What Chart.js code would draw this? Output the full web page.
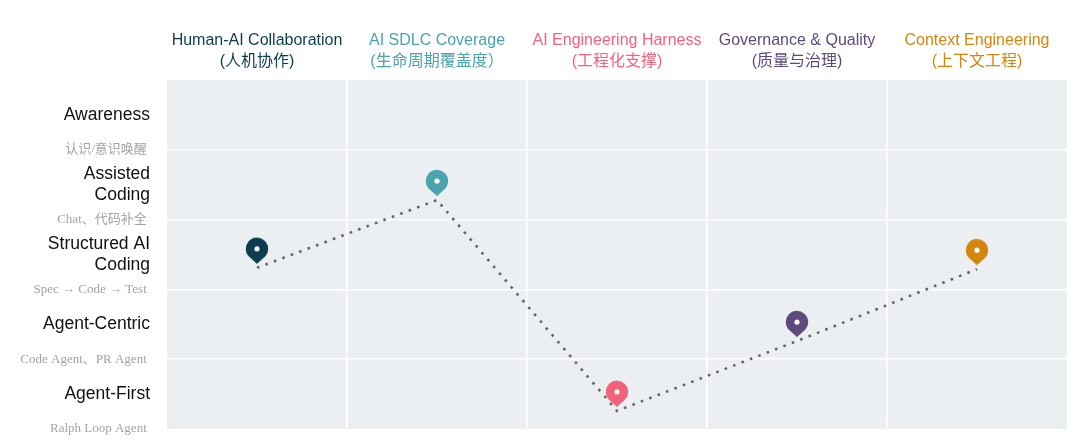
<!DOCTYPE html>
<html><head><meta charset="utf-8">
<script src="https://cdn.jsdelivr.net/npm/chart.js@4"></script>
<style>html,body{margin:0;padding:0;background:#fff;} canvas{display:block}</style>
</head><body>
<canvas id="c" width="1080" height="443"></canvas>
<script>
const dimensionNames = ['Human-AI Collaboration','AI SDLC Coverage','AI Engineering Harness','Governance & Quality','Context Engineering'];
const dimensionNamesZh = ['(人机协作)','(生命周期覆盖度）','(工程化支撑)','(质量与治理)','(上下文工程)'];
const dimensionColors = ['#0b3d4e','#4aa3ad','#f2637b','#5e4a7c','#d3860d'];
const maturityLevels = [2.31, 3.28, 0.26, 1.26, 2.29];
// stage names sit at row centres (0.5, 1.5, ...), bottom to top
const stageNames = [['Agent-First'],['Agent-Centric'],['Structured AI','Coding'],['Assisted','Coding'],['Awareness']];
// stage examples sit at row boundaries (0, 1, 2, ...), bottom to top
const stageExamples = ['Ralph Loop Agent','Code Agent、PR Agent','Spec → Code → Test','Chat、代码补全','认识/意识唤醒'];
const yTickValues = [0,0.5,1,1.5,2,2.5,3,3.5,4,4.5,5];

function makePin(color){
  const W=28,H=32;
  const cv=document.createElement('canvas');
  cv.width=W; cv.height=2*H;
  const c=cv.getContext('2d');
  const cx=W/2, cy=H-19, r=11.2, tipY=H-4;
  const d=tipY-cy, th=Math.acos(r/d);
  c.beginPath();
  c.moveTo(cx,tipY);
  c.arc(cx,cy,r,Math.PI/2+th,Math.PI/2-th);
  c.closePath();
  c.fillStyle=color; c.fill();
  c.beginPath(); c.arc(cx,cy,2.6,0,Math.PI*2); c.fillStyle='#fff'; c.fill();
  return cv;
}

const bgPlugin={id:'bg',beforeDraw(chart){
  const a=chart.chartArea,ctx=chart.ctx;
  ctx.save();ctx.fillStyle='#ebeff2';ctx.fillRect(a.left,a.top,a.right-a.left,a.bottom-a.top);ctx.restore();
}};

const isMajor=v=>Math.abs(v%1-0.5)<1e-6;
const majorFont={family:'"Liberation Sans","Noto Sans CJK SC",sans-serif',size:17.5,lineHeight:1.2};
const minorFont={family:'"Liberation Serif","Noto Sans CJK SC",serif',size:13,lineHeight:1.2};

new Chart(document.getElementById('c'),{
  type:'line',
  data:{
    labels:dimensionNames.map((n,i)=>[n,dimensionNamesZh[i]]),
    datasets:[{
      data:maturityLevels,
      borderColor:'#666666',
      borderWidth:2.6,
      borderDash:[2.6,6.4],
      fill:false,
      tension:0,
      pointStyle:dimensionColors.map(makePin),
      pointRadius:14
    }]
  },
  options:{
    responsive:false,
    animation:false,
    layout:{autoPadding:false,padding:{left:0,right:13,top:0,bottom:14}},
    plugins:{legend:{display:false},tooltip:{enabled:false}},
    scales:{
      x:{
        type:'category',
        position:'top',
        offset:true,
        border:{display:false},
        grid:{offset:true,drawTicks:false,lineWidth:1.5,
          color:ctx=>(ctx.type==='tick'&&ctx.index>0)?'#ffffff':'rgba(0,0,0,0)'},
        ticks:{
          padding:8,
          maxRotation:0,
          autoSkip:false,
          font:{family:'"Liberation Sans","Noto Sans CJK SC",sans-serif',size:16,lineHeight:1.3},
          color:ctx=>dimensionColors[ctx.index]||'#000'
        },
        afterFit(s){s.height=80;s.paddingLeft=0;s.paddingRight=0;}
      },
      y:{
        type:'linear',
        min:0,max:5,
        border:{display:false},
        grid:{drawTicks:false,lineWidth:1.5,
          color:ctx=>{const v=ctx.tick?ctx.tick.value:null;return (v!==null&&v%1===0&&v>0&&v<5)?'#ffffff':'rgba(0,0,0,0)';}},
        afterBuildTicks(s){s.ticks=yTickValues.map(v=>({value:v}));},
        ticks:{
          padding:17,
          autoSkip:false,
          callback:v=>{
            if(isMajor(v)) return stageNames[Math.floor(v)];
            if(v<5) return stageExamples[v]+' ';
            return '';
          },
          font:ctx=>(ctx.tick&&isMajor(ctx.tick.value))?majorFont:minorFont,
          color:ctx=>(ctx.tick&&isMajor(ctx.tick.value))?'#111111':'#a3a3a3'
        },
        afterFit(s){s.width=167;s.paddingTop=0;s.paddingBottom=0;}
      }
    }
  },
  plugins:[bgPlugin]
});
</script>
</body></html>
